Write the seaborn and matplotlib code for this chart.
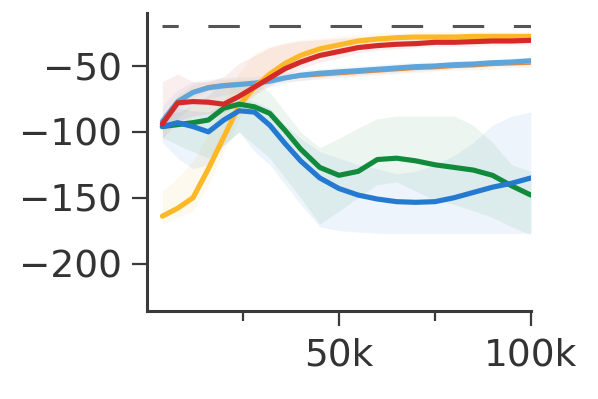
#! /usr/bin/env python3
'''
Learning curves (return vs. environment steps) with shaded spread
'''

# imports
import matplotlib
matplotlib.use('Agg')
import matplotlib.pyplot as plt
import numpy as np
import seaborn as sns

# data (steps in thousands)
steps = [4, 8, 12, 16, 20, 24, 28, 32, 36, 40, 45, 50, 55, 60, 65, 70, 75, 80, 85, 90, 95, 100]

green = [-96, -94.5, -93, -91, -82, -79, -81, -86, -99, -113, -127, -133, -130, -121, -120, -122, -125, -127, -129, -133, -141, -148]
green_lo = [-104, -110, -115, -120, -110, -100, -110, -120, -135, -150, -170, -160, -150, -140, -138, -145, -152, -155, -160, -165, -172, -178]
green_hi = [-88, -85, -80, -72, -62, -62, -62, -70, -85, -100, -112, -105, -97, -90, -88, -88, -88, -88, -95, -108, -125, -130]

blue = [-96, -93, -96, -100, -91, -84, -85, -95, -109, -122, -135, -143, -148, -151, -153, -153.5, -153, -150, -146, -142, -139, -135]
blue_lo = [-108, -120, -128, -125, -110, -100, -115, -125, -140, -155, -172, -175, -176, -177, -177, -177, -177, -177, -177, -177, -177, -177]
blue_hi = [-86, -82, -84, -85, -78, -75, -77, -82, -95, -105, -115, -120, -125, -128, -132, -130, -125, -118, -108, -95, -88, -85]

yellow = [-164, -158, -150, -128, -104, -80, -66, -56, -48, -42, -37, -34, -31, -29.5, -28.5, -28, -28, -28, -27.5, -27.5, -27.5, -27.5]
yellow_lo = [-170, -165, -160, -140, -115, -90, -72, -62, -53, -46, -41, -37, -34, -33, -32, -31, -31, -31, -31, -31, -31, -31]
yellow_hi = [-145, -135, -122, -102, -78, -55, -40, -35, -32, -30, -29, -27, -26, -25, -25, -24, -24, -24, -24, -24, -24, -24]

red = [-94, -78, -77, -77.5, -79, -73, -66, -59, -52, -47, -42, -39, -36, -34.5, -33.5, -33, -32, -32, -31.5, -31, -31, -30.5]
red_lo = [-105, -92, -88, -86, -85, -80, -72, -65, -58, -52, -47, -44, -40, -38, -37, -36, -35, -35, -35, -34, -34, -34]
red_hi = [-62, -56, -62, -62, -58, -48, -42, -36, -33, -31, -30, -29, -28, -27, -27, -27, -27, -27, -27, -27, -27, -27]

lightblue = [-92, -77, -70, -66.5, -65, -64, -63, -61.5, -59, -57, -55.5, -54.5, -53.5, -52.5, -51.5, -50.5, -50, -49, -48.5, -47.5, -47, -46]
lightblue_lo = [-100, -90, -80, -75, -72, -70, -68, -66, -63, -61, -59, -58, -57, -56, -55, -54, -53, -52, -51, -50, -50, -49]
lightblue_hi = [-80, -68, -62, -60, -59, -58, -58, -57, -55, -53, -52, -51, -50, -49, -48, -47, -47, -46, -46, -45, -44, -43]

orange = [-93, -78, -69, -65, -63.5, -63, -62.5, -61.5, -60, -58.5, -57.5, -56.5, -55.5, -54.5, -53.5, -52.5, -52, -51, -50.5, -49.5, -49, -48.5]
orange_lo = [-98, -84, -74, -69, -67, -66, -65, -64, -62, -61, -60, -59, -58, -57, -56, -55, -54, -53, -53, -52, -51, -51]
orange_hi = [-88, -72, -64, -61, -60, -60, -60, -59, -58, -56, -55, -54, -53, -52, -51, -50, -50, -49, -48, -47, -47, -46]

target = -20

# series: (values, lower, upper, colour, line width, z-order)
series = [
    (orange, orange_lo, orange_hi, '#E8893C', 1.1, 3),
    (lightblue, lightblue_lo, lightblue_hi, '#5DA5DA', 3.7, 4),
    (yellow, yellow_lo, yellow_hi, '#FDB827', 3.7, 5),
    (green, green_lo, green_hi, '#118A3C', 3.7, 6),
    (blue, blue_lo, blue_hi, '#2479D0', 3.7, 7),
    (red, red_lo, red_hi, '#D42A2A', 3.7, 8),
]

# main program
if __name__ == "__main__":
    sns.set_theme(style='ticks')
    plt.rcParams['font.family'] = ['DejaVu Sans']
    fig = plt.figure(figsize=(5.98, 3.99), dpi=100)
    ax = fig.add_axes([0.2458, 0.2206, 0.642, 0.746])
    x = np.array(steps) * 1000

    # shaded spread first, then the mean lines on top
    for vals, lo, hi, col, lw, z in series:
        ax.fill_between(x, lo, hi, color=col, alpha=0.08, lw=0, zorder=1)
    for vals, lo, hi, col, lw, z in series:
        sns.lineplot(x=x, y=vals, color=col, lw=lw, ax=ax, zorder=z)

    # target line
    ax.hlines(target, x[0], x[-1], colors='#555555', lw=2.2, linestyles=(5, (10.3, 9.7)), zorder=2)

    ax.set_xlim(0, 100000)
    ax.set_ylim(-236, -10)
    ax.set_xticks([50000, 100000])
    ax.set_xticklabels(['50k', '100k'])
    ax.set_xticks([25000, 75000], minor=True)
    ax.set_yticks([-200, -150, -100, -50])
    ax.set_xlabel('')
    ax.set_ylabel('')
    sns.despine(ax=ax)
    for s in ['left', 'bottom']:
        ax.spines[s].set_linewidth(2.2)
        ax.spines[s].set_color('#3a3a3a')
    ax.tick_params(axis='both', which='major', length=11, width=1.6, color='#3a3a3a', labelsize=27, labelcolor='#333333', pad=7)
    ax.tick_params(axis='x', which='minor', length=7, width=1.6, color='#3a3a3a')
    ax.tick_params(axis='x', which='major', pad=8)
    fig.savefig('out.png', dpi=100)
